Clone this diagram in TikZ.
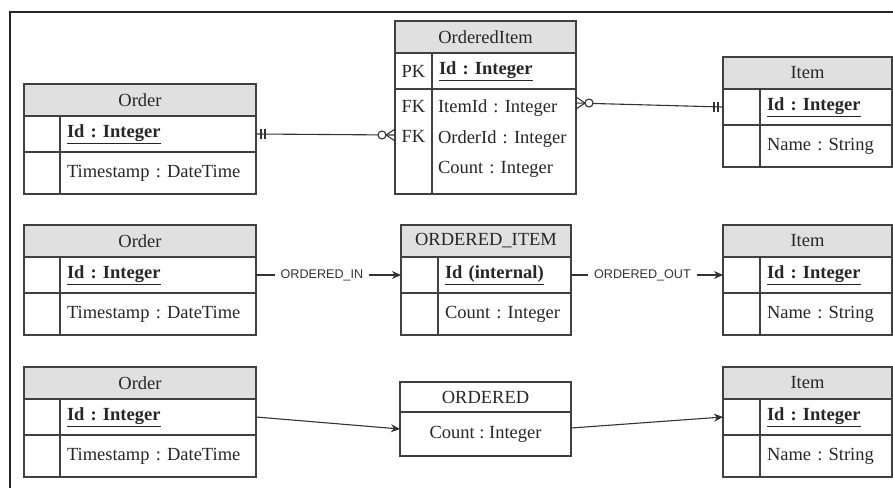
\documentclass[tikz,border=0pt]{standalone}
\usepackage{fontspec}
\setmainfont{Liberation Serif}
\newfontfamily\lblfont{Liberation Sans}
\usetikzlibrary{positioning,calc,arrows.meta}
\frenchspacing

\tikzset{
  tbl/.style={draw=black!75, line width=1.2pt, inner sep=0pt, outer sep=0pt, text=black!85, font=\fontsize{18.5}{22}\selectfont},
  hdr/.style={tbl, fill=black!12, minimum height=32},
  keycol/.style={tbl, anchor=north west, minimum width=37},
  fld/.style={tbl, anchor=north west, align=left, inner xsep=7pt},
  lbl/.style={fill=white, inner xsep=6pt, inner ysep=2pt, text=black!80, font=\lblfont\fontsize{12.6}{14}\selectfont},
  conn/.style={draw=black!80, line width=1.1pt},
  tip/.style={-{Stealth[length=9pt,width=8pt]}},
  pics/zeromany/.style={code={
    \draw[conn] (-9,0) -- (0,-6) (-9,0) -- (0,6);
    \draw[conn, fill=white] (-13,0) circle (4);}},
  pics/oneone/.style={code={
    \draw[conn] (5,-5) -- (5,5) (9,-5) -- (9,5);}}
}

\begin{document}
\begin{tikzpicture}[x=1pt,y=-1pt]
\useasboundingbox (0,0) rectangle (893,488);
\draw[black!85, line width=1.3pt] (10,488) -- (10,12) -- (893,12);

% first row: relational tables
\node[hdr, minimum width=232] (ord1) at (140,100) {Order};
\node[keycol, minimum width=36, minimum height=36] (ord1k1) at (ord1.south west) {};
\node[fld, text width=182, minimum height=36] (ord1id) at (ord1k1.north east) {\underline{\textbf{Id : Integer}}};
\node[keycol, minimum width=36, minimum height=42] (ord1k2) at (ord1k1.south west) {};
\node[fld, text width=182, minimum height=42] (ord1ts) at (ord1k2.north east) {Timestamp : DateTime};

\node[hdr, minimum width=181] (oi1) at (485.5,37) {OrderedItem};
\node[keycol, minimum height=36] (oi1k1) at (oi1.south west) {PK};
\node[fld, text width=130, minimum height=36] (oi1id) at (oi1k1.north east) {\underline{\textbf{Id : Integer}}};
\node[keycol, minimum height=105, align=center, font=\fontsize{18.5}{30.5}\selectfont] (oi1k2) at (oi1k1.south west) {FK\\FK\\\strut};
\node[fld, text width=132, inner xsep=6pt, minimum height=105, font=\fontsize{18.5}{30.5}\selectfont] (oi1fk) at (oi1k2.north east) {ItemId : Integer\\OrderId : Integer\\Count : Integer\strut};

\node[hdr, minimum width=169] (itm1) at (807.5,73) {Item};
\node[keycol, minimum height=36] (itm1k1) at (itm1.south west) {};
\node[fld, text width=118, minimum height=36] (itm1id) at (itm1k1.north east) {\underline{\textbf{Id : Integer}}};
\node[keycol, minimum height=42] (itm1k2) at (itm1k1.south west) {};
\node[fld, text width=118, minimum height=42] (itm1nm) at (itm1k2.north east) {Name : String};

\coordinate (oiL) at ($(oi1k2.north west)+(0,46)$);
\coordinate (oiR) at ($(oi1fk.north east)+(0,14)$);
\draw[conn] (ord1id.east) -- (oiL);
\draw[conn] (oiR) -- (itm1k1.west);
\pic at (ord1id.east) {oneone};
\pic at (oiL) {zeromany};
\pic[xscale=-1] at (oiR) {zeromany};
\pic[xscale=-1] at (itm1k1.west) {oneone};

% second row: graph with relationship node
\node[hdr, minimum width=232] (ord2) at (140,241) {Order};
\node[keycol, minimum width=36, minimum height=36] (ord2k1) at (ord2.south west) {};
\node[fld, text width=182, minimum height=36] (ord2id) at (ord2k1.north east) {\underline{\textbf{Id : Integer}}};
\node[keycol, minimum width=36, minimum height=42] (ord2k2) at (ord2k1.south west) {};
\node[fld, text width=182, minimum height=42] (ord2ts) at (ord2k2.north east) {Timestamp : DateTime};

\node[hdr, minimum width=170] (oi2) at (486,241) {ORDERED\_ITEM};
\node[keycol, minimum height=36] (oi2k1) at (oi2.south west) {};
\node[fld, text width=119, minimum height=36] (oi2id) at (oi2k1.north east) {\underline{\textbf{Id (internal)}}};
\node[keycol, minimum height=42] (oi2k2) at (oi2k1.south west) {};
\node[fld, text width=119, minimum height=42] (oi2cnt) at (oi2k2.north east) {Count : Integer};

\node[hdr, minimum width=169] (itm2) at (807.5,241) {Item};
\node[keycol, minimum height=36] (itm2k1) at (itm2.south west) {};
\node[fld, text width=118, minimum height=36] (itm2id) at (itm2k1.north east) {\underline{\textbf{Id : Integer}}};
\node[keycol, minimum height=42] (itm2k2) at (itm2k1.south west) {};
\node[fld, text width=118, minimum height=42] (itm2nm) at (itm2k2.north east) {Name : String};

\draw[conn, tip] (ord2id.east) -- node[lbl, pos=0.455] (lblin) {ORDERED\_IN} (oi2k1.west);
\draw[conn, tip] (oi2id.east) -- node[lbl, pos=0.47] (lblout) {ORDERED\_OUT} (itm2k1.west);

% third row: graph with relationship properties
\node[hdr, minimum width=232] (ord3) at (140,383) {Order};
\node[keycol, minimum width=36, minimum height=36] (ord3k1) at (ord3.south west) {};
\node[fld, text width=182, minimum height=36] (ord3id) at (ord3k1.north east) {\underline{\textbf{Id : Integer}}};
\node[keycol, minimum width=36, minimum height=42] (ord3k2) at (ord3k1.south west) {};
\node[fld, text width=182, minimum height=42] (ord3ts) at (ord3k2.north east) {Timestamp : DateTime};

\node[tbl, minimum width=171, minimum height=30] (odd) at (485.5,397) {ORDERED};
\node[tbl, anchor=north, minimum width=171, minimum height=44] (oddcnt) at (odd.south) {Count : Integer};

\node[hdr, minimum width=169] (itm3) at (807.5,383) {Item};
\node[keycol, minimum height=36] (itm3k1) at (itm3.south west) {};
\node[fld, text width=118, minimum height=36] (itm3id) at (itm3k1.north east) {\underline{\textbf{Id : Integer}}};
\node[keycol, minimum height=42] (itm3k2) at (itm3k1.south west) {};
\node[fld, text width=118, minimum height=42] (itm3nm) at (itm3k2.north east) {Name : String};

\coordinate (oddL) at ($(oddcnt.west)+(0,-5)$);
\coordinate (oddR) at ($(oddcnt.east)+(0,-6)$);
\draw[conn, tip] (ord3id.east) -- (oddL);
\draw[conn, tip] (oddR) -- (itm3k1.west);
\end{tikzpicture}
\end{document}
